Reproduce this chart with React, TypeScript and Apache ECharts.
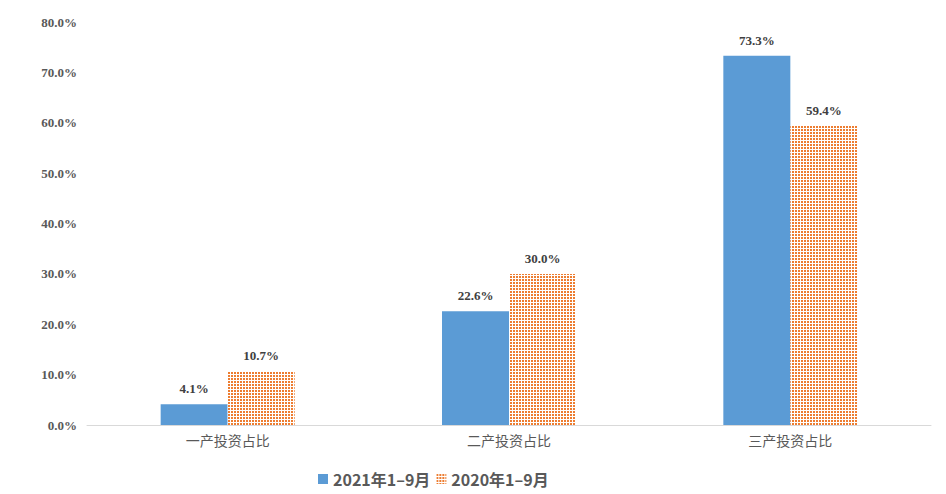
import React, { useEffect, useRef } from "react";
import * as echarts from "echarts";

const categories = ["一产投资占比", "二产投资占比", "三产投资占比"];
const series2021 = [4.1, 22.6, 73.3];
const series2020 = [10.7, 30.0, 59.4];
const seriesNames = ["2021年1–9月", "2020年1–9月"];
const yTicks = { min: 0, max: 80, interval: 10 };

function makePattern(): HTMLCanvasElement {
  const c = document.createElement("canvas");
  c.width = 3;
  c.height = 3;
  const ctx = c.getContext("2d")!;
  ctx.fillStyle = "#ffffff";
  ctx.fillRect(0, 0, 3, 3);
  ctx.fillStyle = "#ED7D31";
  ctx.fillRect(0, 0, 2, 2);
  return c;
}

export default function App() {
  const ref = useRef<HTMLDivElement>(null);
  useEffect(() => {
    if (!ref.current) return;
    const chart = echarts.init(ref.current, undefined, { renderer: "svg" });
    const pattern = {
      image: makePattern(),
      repeat: "repeat",
    };
    const labelStyle = {
      show: true,
      position: "top" as const,
      distance: 9,
      color: "#404040",
      fontFamily: "'Liberation Serif', 'DejaVu Serif', serif",
      fontWeight: "bold" as const,
      fontSize: 13,
      formatter: (p: any) => p.value.toFixed(1) + "%",
    };
    chart.setOption({
      animation: false,
      backgroundColor: "#ffffff",
      grid: { left: 87, right: 15, top: 22, bottom: 69 },
      legend: {
        left: 318,
        top: 471,
        padding: 0,
        itemWidth: 10,
        itemHeight: 10,
        itemGap: 6,
        icon: "rect",
        textStyle: {
          color: "#595959",
          fontSize: 16,
          fontWeight: "bold",
          fontFamily: "'Noto Sans CJK SC', 'Noto Sans', sans-serif",
        },
        data: seriesNames,
      },
      xAxis: {
        type: "category",
        data: categories,
        axisLine: { lineStyle: { color: "#d9d9d9", width: 1 } },
        axisTick: { show: false },
        axisLabel: {
          color: "#595959",
          fontSize: 14,
          margin: 8,
          fontFamily: "'Noto Sans CJK SC', serif",
        },
      },
      yAxis: {
        type: "value",
        min: yTicks.min,
        max: yTicks.max,
        interval: yTicks.interval,
        axisLine: { show: false },
        axisTick: { show: false },
        splitLine: { show: false },
        axisLabel: {
          color: "#595959",
          fontSize: 13,
          fontWeight: "bold",
          margin: 10,
          fontFamily: "'Liberation Serif', 'DejaVu Serif', serif",
          formatter: (v: number) => v.toFixed(1) + "%",
        },
      },
      series: [
        {
          name: seriesNames[0],
          type: "bar",
          data: series2021,
          barWidth: 67,
          barGap: "0%",
          itemStyle: { color: "#5B9BD5" },
          label: labelStyle,
        },
        {
          name: seriesNames[1],
          type: "bar",
          data: series2020,
          barWidth: 67,
          barGap: "0%",
          itemStyle: { color: pattern },
          label: labelStyle,
        },
      ],
    });
    return () => chart.dispose();
  }, []);
  return (
    <div
      ref={ref}
      style={{ position: "fixed", left: 0, top: 0, width: 946, height: 494 }}
    />
  );
}
